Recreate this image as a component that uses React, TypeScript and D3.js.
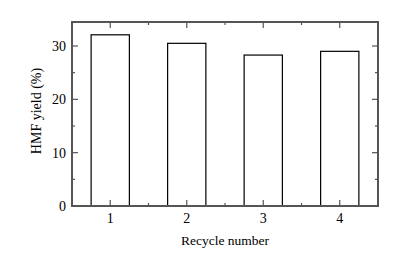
import React from "react";
import * as d3 from "d3";

const cycles = [1, 2, 3, 4];
const yields = [32.1, 30.5, 28.3, 29.0];
const yTicks = [0, 10, 20, 30];
const yMinor = [5, 15, 25];
const xMinor = [1.5, 2.5, 3.5];

const W = 398;
const H = 253;
const margin = { top: 22, right: 20, bottom: 47, left: 72 };
const font = "'Liberation Serif', 'Times New Roman', serif";

const App = () => {
  const iw = W - margin.left - margin.right;
  const ih = H - margin.top - margin.bottom;
  const x = d3.scaleLinear().domain([0.5, 4.5]).range([0, iw]);
  const y = d3.scaleLinear().domain([0, 34.5]).range([ih, 0]);
  const bw = x(1.25) - x(0.75);
  const frame = "#555";

  return (
    <svg width={W} height={H} style={{ position: "absolute", left: 0, top: 0 }}>
      <rect width={W} height={H} fill="white" />
      <g transform={`translate(${margin.left},${margin.top})`}>
        {cycles.map((c, i) => (
          <rect
            key={c}
            x={x(c) - bw / 2}
            y={y(yields[i])}
            width={bw}
            height={ih - y(yields[i])}
            fill="white"
            stroke="black"
            strokeWidth={1.2}
          />
        ))}
        {/* ticks inward on all four sides */}
        {yTicks.map(t => (
          <g key={"y" + t}>
            <line x1={0} x2={6} y1={y(t)} y2={y(t)} stroke={frame} strokeWidth={1.2} />
            <line x1={iw} x2={iw - 6} y1={y(t)} y2={y(t)} stroke={frame} strokeWidth={1.2} />
            <text x={-6} y={y(t)} dy="0.35em" textAnchor="end" fontFamily={font} fontSize={14}>
              {t}
            </text>
          </g>
        ))}
        {yMinor.map(t => (
          <g key={"ym" + t}>
            <line x1={0} x2={3} y1={y(t)} y2={y(t)} stroke={frame} strokeWidth={1.2} />
            <line x1={iw} x2={iw - 3} y1={y(t)} y2={y(t)} stroke={frame} strokeWidth={1.2} />
          </g>
        ))}
        {cycles.map(c => (
          <g key={"x" + c}>
            <line x1={x(c)} x2={x(c)} y1={ih} y2={ih - 6} stroke={frame} strokeWidth={1.2} />
            <line x1={x(c)} x2={x(c)} y1={0} y2={6} stroke={frame} strokeWidth={1.2} />
            <text x={x(c)} y={ih + 17} textAnchor="middle" fontFamily={font} fontSize={14}>
              {c}
            </text>
          </g>
        ))}
        {xMinor.map(c => (
          <g key={"xm" + c}>
            <line x1={x(c)} x2={x(c)} y1={ih} y2={ih - 3} stroke={frame} strokeWidth={1.2} />
            <line x1={x(c)} x2={x(c)} y1={0} y2={3} stroke={frame} strokeWidth={1.2} />
          </g>
        ))}
        <rect x={0} y={0} width={iw} height={ih} fill="none" stroke={frame} strokeWidth={2} />
        <text x={iw / 2} y={ih + 39} textAnchor="middle" fontFamily={font} fontSize={13.5}>
          Recycle number
        </text>
        <text
          transform={`translate(${-36},${ih / 2 - 3}) rotate(-90)`}
          textAnchor="middle"
          dy="0.35em"
          fontFamily={font}
          fontSize={14}
        >
          HMF yield (%)
        </text>
      </g>
    </svg>
  );
};

export default App;
